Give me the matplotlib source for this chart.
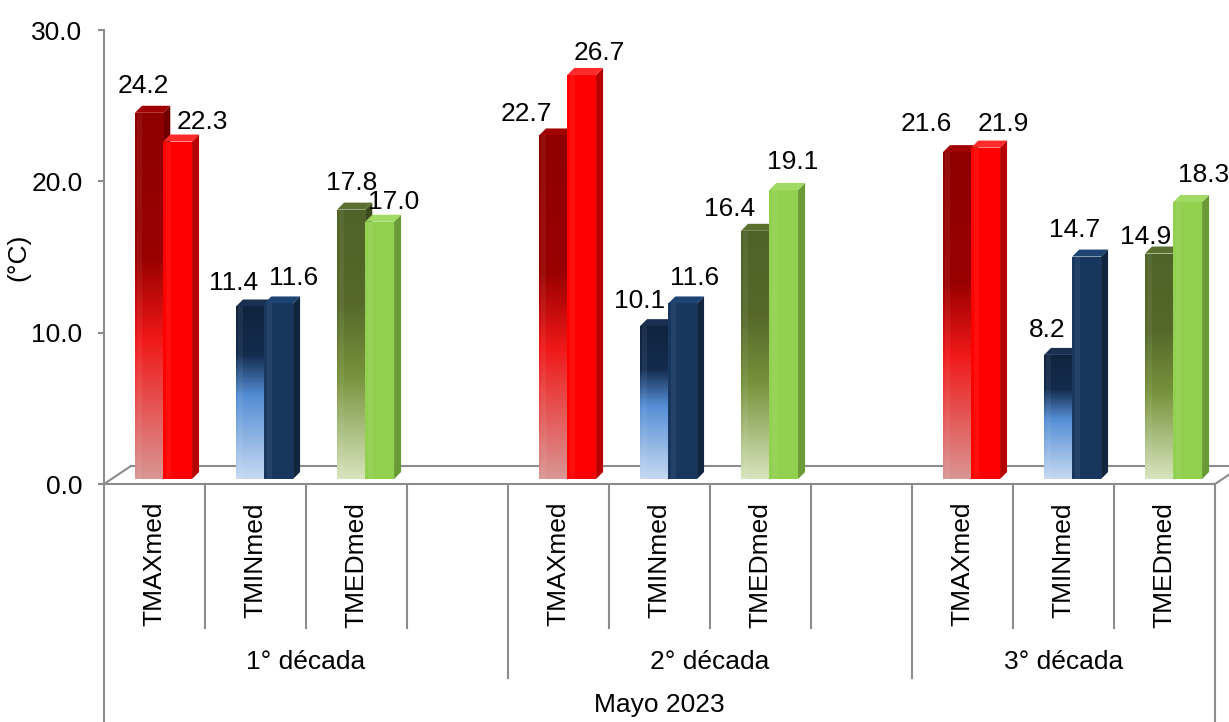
import numpy as np
import matplotlib.pyplot as plt
from matplotlib.patches import Rectangle, Polygon
from matplotlib.colors import LinearSegmentedColormap
from matplotlib.transforms import blended_transform_factory

plt.rcParams['font.family'] = ['Liberation Sans', 'DejaVu Sans']

decadas = ['1° década', '2° década', '3° década']
variables = ['TMAXmed', 'TMINmed', 'TMEDmed']
titulo_mes = 'Mayo 2023'
# primera barra de cada par (degradado) y segunda (color liso)
serie_a = [[24.2, 11.4, 17.8], [22.7, 10.1, 16.4], [21.6, 8.2, 14.9]]
serie_b = [[22.3, 11.6, 17.0], [26.7, 11.6, 19.1], [21.9, 14.7, 18.3]]
yticks = [0, 10, 20, 30]

# huecos por decada (la ultima no lleva hueco vacio)
slots_por_grupo = [4, 4, 3]

# desplazamiento de las etiquetas (pixeles) respecto al centro/tope de cada barra
off_a = [[(-6, 27), (-17, 23), (0, 27)],
         [(-27, 21), (-15, 25), (-26, 22)],
         [(-31, 28), (-11, 25), (-14, 17)]]
off_b = [[(25, 20), (15, 25), (14, 20)],
         [(18, 22), (12, 25), (9, 28)],
         [(18, 24), (-12, 27), (16, 27)]]

# colores: degradado (arriba -> abajo), frente liso, lateral
grad_a = [
    [(0.0, '#8e0000'), (0.40, '#990000'), (0.62, '#f01818'), (1.0, '#d99694')],
    [(0.0, '#10243f'), (0.28, '#132b4d'), (0.52, '#558ed5'), (1.0, '#c6d9f1')],
    [(0.0, '#4f6228'), (0.35, '#56692b'), (0.62, '#77933c'), (1.0, '#d7e4bd')],
]
lado_a = ['#700000', '#0b1a2e', '#3c4b1e']
tapa_a = ['#a00000', '#1a3050', '#5a6f30']
color_b = ['#ff0000', '#17375e', '#92d050']
lado_b = ['#b80000', '#0f2540', '#6a9a35']
tapa_b = ['#ff2a2a', '#1e4473', '#a0da62']

gris = '#8c8c8c'
fs = 19

fig = plt.figure(figsize=(12.29, 7.22), dpi=100)
W, H = 1229, 722
ax = fig.add_axes([104 / W, (H - 484) / H, (1215 - 104) / W, (484 - 30) / H])
n_slots = sum(slots_por_grupo)
ax.set_xlim(0, n_slots)
ax.set_ylim(0, 30)
ax.set_autoscale_on(False)

for s in ['top', 'right', 'bottom']:
    ax.spines[s].set_visible(False)
ax.spines['left'].set_color(gris)
ax.spines['left'].set_linewidth(1.5)
ax.set_xticks([])
ax.set_yticks(yticks)
ax.set_yticklabels([f'{t:.1f}' for t in yticks], fontsize=fs)
ax.tick_params(axis='y', direction='out', length=4.5, width=1.5, color=gris, pad=11)
ax.set_ylabel('(°C)', fontsize=fs)
ax.yaxis.set_label_coords(-(104 - 30) / 1111, 0.5)

# profundidad del piso y de las barras (unidades de datos)
px_x = n_slots / 1111
px_y = 30 / 454
piso_dx, piso_dy = 27 * px_x, 18 * px_y
dx, dy = 7 * px_x, 7 * px_y
base = 5 * px_y

# piso en perspectiva
kw = dict(color=gris, lw=1.5, clip_on=False, zorder=1)
ax.plot([0, n_slots], [0, 0], **kw)
ax.plot([piso_dx, n_slots + piso_dx], [piso_dy, piso_dy], **kw)
ax.plot([0, piso_dx], [0, piso_dy], **kw)
ax.plot([n_slots, n_slots + piso_dx], [0, piso_dy], **kw)


def barra(x0, w, h, z, frente=None, lado=None, tapa=None, stops=None):
    y0, y1 = base, base + h
    ax.add_patch(Polygon([(x0 + w, y0), (x0 + w + dx, y0 + dy), (x0 + w + dx, y1 + dy), (x0 + w, y1)],
                         closed=True, fc=lado, ec='none', zorder=z, clip_on=False))
    ax.add_patch(Polygon([(x0, y1), (x0 + dx, y1 + dy), (x0 + w + dx, y1 + dy), (x0 + w, y1)],
                         closed=True, fc=tapa, ec='none', zorder=z, clip_on=False))
    rect = Rectangle((x0, y0), w, h, fc=frente if frente else 'none', ec='none', zorder=z)
    ax.add_patch(rect)
    if stops is not None:
        cmap = LinearSegmentedColormap.from_list('g', stops)
        img = ax.imshow(np.linspace(0, 1, 256).reshape(-1, 1), cmap=cmap, aspect='auto',
                        extent=(x0, x0 + w, y0, y1), origin='upper', zorder=z)
        img.set_clip_path(rect)
    # brillo suave en el frente
    ax.add_patch(Rectangle((x0 + w * 0.08, y0), w * 0.18, h, fc='white', alpha=0.06, ec='none', zorder=z))


wa, wb = 0.28, 0.285
slot = 0
for g in range(len(decadas)):
    for i in range(len(variables)):
        xa = slot + 0.307
        xb = xa + wa
        va, vb = serie_a[g][i], serie_b[g][i]
        barra(xa, wa, va, 3 + 2 * slot, lado=lado_a[i], tapa=tapa_a[i], stops=grad_a[i])
        barra(xb, wb, vb, 4 + 2 * slot, frente=color_b[i], lado=lado_b[i], tapa=tapa_b[i])
        ax.annotate(f'{va:.1f}', (xa + wa / 2, base + va), xytext=off_a[g][i], textcoords='offset pixels',
                    ha='center', va='center', fontsize=fs, zorder=50, annotation_clip=False)
        ax.annotate(f'{vb:.1f}', (xb + wb / 2, base + vb), xytext=off_b[g][i], textcoords='offset pixels',
                    ha='center', va='center', fontsize=fs, zorder=50, annotation_clip=False)
        slot += 1
    slot += slots_por_grupo[g] - len(variables)

# eje de categorias en dos niveles
tr = blended_transform_factory(ax.transData, fig.transFigure)
fy = lambda p: (H - p) / H
lkw = dict(color=gris, lw=1.5, transform=tr, clip_on=False)
inicio = 0
for g, n in enumerate(slots_por_grupo):
    for k in range(n):
        if k < len(variables):
            ax.text(inicio + k + 0.5, fy(502), variables[k], rotation=90, ha='center', va='top',
                    fontsize=fs, transform=tr)
        if k > 0:
            ax.plot([inicio + k, inicio + k], [fy(484), fy(628)], **lkw)
    ax.text(inicio + n / 2, fy(662), decadas[g], ha='center', va='center', fontsize=fs, transform=tr)
    fin = inicio + n
    if fin < n_slots:
        ax.plot([fin, fin], [fy(484), fy(678)], **lkw)
    inicio = fin
ax.plot([0, 0], [fy(484), 0], **lkw)
ax.plot([n_slots, n_slots], [fy(484), 0], **lkw)
ax.text(n_slots / 2, fy(705), titulo_mes, ha='center', va='center', fontsize=fs, transform=tr)

fig.savefig('out.png', dpi=100)
